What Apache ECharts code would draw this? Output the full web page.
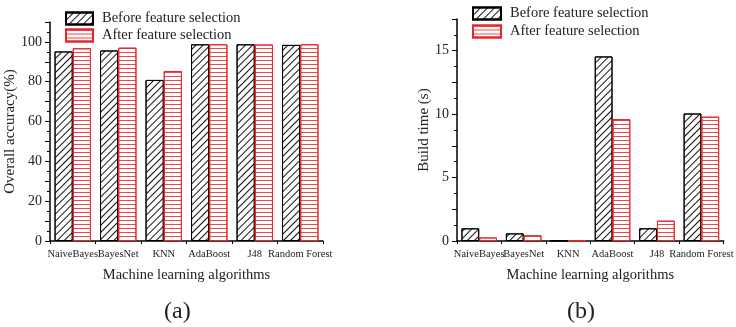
<!DOCTYPE html>
<html><head><meta charset="utf-8">
<script src="https://cdn.jsdelivr.net/npm/echarts@6/dist/echarts.min.js"></script>
<style>html,body{margin:0;padding:0;background:#fff}#c{width:736px;height:327px}</style>
</head><body><div id="c"></div>
<script>
const categories = ['NaiveBayes','BayesNet','KNN','AdaBoost','J48','Random Forest'];
const accBefore = [95.2, 95.7, 80.9, 98.8, 98.8, 98.5];
const accAfter  = [96.8, 97.1, 85.4, 98.8, 98.7, 98.8];
const timeBefore = [1.0, 0.6, 0.03, 14.55, 1.0, 10.05];
const timeAfter  = [0.28, 0.45, 0.03, 9.6, 1.6, 9.8];
const accTicks = [0, 20, 40, 60, 80, 100];
const timeTicks = [0, 5, 10, 15];
const seriesNames = ['Before feature selection', 'After feature selection'];

const FONT = 'Liberation Serif';
const hatch = {symbol:'rect', symbolSize:1, dashArrayX:[1,0], dashArrayY:[1,3.5], rotation:-Math.PI/4, color:'#111'};
const stripes = {symbol:'rect', symbolSize:1, dashArrayX:[1,0], dashArrayY:[1,2.2], rotation:0, color:'rgba(230,30,30,0.8)'};
const beforeStyle = {color:'#fff', borderColor:'#000', borderWidth:1, decal:hatch};
const afterStyle = {color:'#fff', borderColor:'#e8262a', borderWidth:1, decal:stripes};

function xAxis(gi){
  return {type:'category', gridIndex:gi, data:categories,
    axisLine:{lineStyle:{color:'#000', width:1.5}},
    axisTick:{show:true, length:3, lineStyle:{color:'#000'}},
    axisLabel:{interval:0, color:'#222', fontFamily:FONT, fontSize:10.5, margin:8, hideOverlap:false, overflow:'none', width:200},
    name:'Machine learning algorithms', nameLocation:'middle', nameGap:27,
    nameTextStyle:{fontFamily:FONT, fontSize:14.5, color:'#222'}};
}
function yAxis(gi, max, interval, ticks, name){
  return {type:'value', gridIndex:gi, min:0, max:max, interval:interval,
    axisLine:{show:true, lineStyle:{color:'#000', width:1.5}},
    axisTick:{show:true, length:5, lineStyle:{color:'#000'}},
    minorTick:{show:true, splitNumber:2, length:3, lineStyle:{color:'#000'}},
    splitLine:{show:false},
    axisLabel:{color:'#222', fontFamily:FONT, fontSize:14, margin:8,
      formatter: v => ticks.includes(v) ? String(v) : ''},
    name:name, nameLocation:'middle', nameGap: gi===0 ? 29 : 21,
    nameTextStyle:{fontFamily:FONT, fontSize:15, color:'#222'}};
}
const chart = echarts.init(document.getElementById('c'), null, {renderer:'canvas'});
chart.setOption({
  animation:false,
  backgroundColor:'#fff',
  title:[
    {text:'(a)', left:164, top:300, padding:0, textStyle:{fontFamily:FONT, fontSize:24, fontWeight:'normal', color:'#222'}},
    {text:'(b)', left:567, top:300, padding:0, textStyle:{fontFamily:FONT, fontSize:24, fontWeight:'normal', color:'#222'}}
  ],
  legend:[
    {orient:'vertical', left:65, top:11, padding:0, icon:'rect', itemWidth:27, itemHeight:12, itemGap:2, selectedMode:false,
     data:seriesNames, textStyle:{fontFamily:FONT, fontSize:14.5, color:'#222', padding:[0,0,0,4]}},
    {orient:'vertical', left:472, top:6, padding:0, icon:'rect', itemWidth:28, itemHeight:12, itemGap:3, selectedMode:false,
     data:seriesNames, textStyle:{fontFamily:FONT, fontSize:14.5, color:'#222', padding:[0,0,0,4]}}
  ],
  grid:[
    {left:50, right:413, top:22, bottom:86},
    {left:457, right:5, top:19, bottom:86}
  ],
  xAxis:[xAxis(0), xAxis(1)],
  yAxis:[yAxis(0, 110, 10, accTicks, 'Overall accuracy(%)'), yAxis(1, 17.5, 2.5, timeTicks, 'Build time (s)')],
  series:[
    {name:seriesNames[0], type:'bar', xAxisIndex:0, yAxisIndex:0, data:accBefore, itemStyle:beforeStyle, barGap:'0%', barCategoryGap:'20%'},
    {name:seriesNames[1], type:'bar', xAxisIndex:0, yAxisIndex:0, data:accAfter, itemStyle:afterStyle, barGap:'0%', barCategoryGap:'20%'},
    {name:seriesNames[0], type:'bar', xAxisIndex:1, yAxisIndex:1, data:timeBefore, itemStyle:beforeStyle, barGap:'0%', barCategoryGap:'20%'},
    {name:seriesNames[1], type:'bar', xAxisIndex:1, yAxisIndex:1, data:timeAfter, itemStyle:afterStyle, barGap:'0%', barCategoryGap:'20%'}
  ]
});
</script></body></html>
